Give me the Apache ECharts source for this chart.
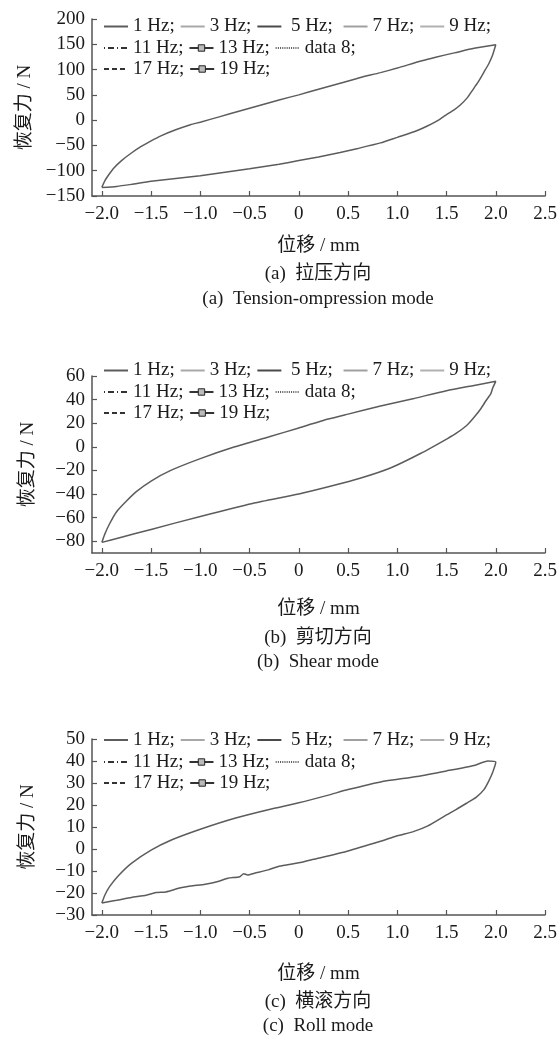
<!DOCTYPE html>
<html><head><meta charset="utf-8">
<script src="https://cdn.jsdelivr.net/npm/echarts@6/dist/echarts.min.js"></script>
<style>html,body{margin:0;padding:0;background:#fff}#c{width:558px;height:1037px}</style>
</head><body><div id="c"></div>
<script>
// ---------- data ----------
const xTicks = [-2.0, -1.5, -1.0, -0.5, 0, 0.5, 1.0, 1.5, 2.0, 2.5];
const yTicksA = [-150, -100, -50, 0, 50, 100, 150, 200];
const yTicksB = [-80, -60, -40, -20, 0, 20, 40, 60];
const yTicksC = [-30, -20, -10, 0, 10, 20, 30, 40, 50];

const seriesNames = ['1 Hz;', '3 Hz;', ' 5 Hz; ', '7 Hz;', '9 Hz;', '11 Hz;', '13 Hz;', 'data 8;', '17 Hz;', '19 Hz;'];
const legendRow1 = ['1 Hz;', '3 Hz;', ' 5 Hz; ', '7 Hz;', '9 Hz;'];
const legendRow2 = ['11 Hz;', '13 Hz;', 'data 8;'];
const legendRow3 = ['17 Hz;', '19 Hz;'];
const markerNames = ['13 Hz;', '19 Hz;'];

// (a) tension-compression loop: upper branch then lower branch
const aX = [-2.0,-1.97,-1.93,-1.88,-1.8,-1.7,-1.6,-1.5,-1.4,-1.25,-1.1,-1.0,-0.8,-0.6,-0.4,-0.2,0,0.2,0.42,0.6,0.83,1.0,1.24,1.4,1.58,1.78,2.0,
            1.97,1.93,1.88,1.82,1.76,1.71,1.64,1.58,1.5,1.41,1.3,1.17,1.0,0.83,0.6,0.42,0.2,0,-0.2,-0.5,-1.0,-1.5,-1.7,-1.85,-2.0];
const aY = [-133,-120,-108,-95,-80,-65,-52,-41,-31,-19,-9,-4,7,18,29,40,50,61,73,83,94,103,117,125,133,142,149,
            130,112,95,75,58,44,30,21,11,-1,-12,-23,-34,-45,-56,-64,-73,-80,-87,-96,-110,-121,-127,-131,-133];

// (b) shear loop
const bX = [-2.0,-1.97,-1.92,-1.85,-1.75,-1.65,-1.5,-1.3,-1.0,-0.65,-0.3,0,0.3,0.5,0.83,1.17,1.5,1.78,2.0,
            1.97,1.95,1.9,1.85,1.78,1.71,1.6,1.51,1.24,0.93,0.63,0.32,0,-0.47,-1.0,-1.5,-1.82,-2.0];
const bY = [-81,-74,-65,-55,-46,-38,-29,-20,-10,0,8.5,16,23.5,27.7,34.5,41,47.5,52,55.5,
            50,45,39,32.5,25,18.5,11.5,7,-5.5,-18,-26.5,-33.5,-40,-48,-59,-70,-77,-81];

// (c) roll loop
const cX = [-2.0,-1.97,-1.92,-1.83,-1.7,-1.5,-1.3,-1.0,-0.65,-0.3,0,0.3,0.5,0.83,1.2,1.5,1.78,1.92,2.0,
            1.97,1.93,1.88,1.8,1.71,1.6,1.5,1.31,1.17,1.0,0.83,0.49,0.15,0,-0.2,-0.31,-0.45,-0.52,-0.56,-0.6,-0.72,-0.82,-0.95,-1.1,-1.2,-1.35,-1.45,-1.55,-1.7,-1.85,-2.0];
const cY = [-24.5,-21,-17,-12,-6.5,-0.5,4,9,14,18,21,24.5,27,30.5,33,35.5,38,40,39.5,
            35,31,27,23.5,21,18,15.5,10.5,8,6,3.5,-1,-4.7,-6.3,-7.8,-9.5,-11,-11.8,-11.2,-12.6,-13.3,-14.8,-16,-16.8,-17.6,-19.5,-19.8,-21,-22,-23.3,-24.5];

// ---------- layout ----------
const FONT = '"Liberation Serif", "Noto Sans CJK SC", serif';
const TXT = '#1a1a1a';
const AXC = '#555';
const panels = [
  {top: 19, height: 177, min: -150, max: 200, ticks: yTicksA, xs: aX, ys: aY, nameGap: 41, legTop: [17, 38.5, 59.5],
   cap: ['(a)  拉压方向', '(a)  Tension-ompression mode'], capY: [274, 299]},
  {top: 376, height: 177, min: -90, max: 60, ticks: yTicksB, xs: bX, ys: bY, nameGap: 47, legTop: [361, 382.5, 403.5],
   cap: ['(b)  剪切方向', '(b)  Shear mode'], capY: [638, 662]},
  {top: 739, height: 176, min: -30, max: 50, ticks: yTicksC, xs: cX, ys: cY, nameGap: 50, legTop: [730.5, 752.5, 773.5],
   cap: ['(c)  横滚方向', '(c)  Roll mode'], capY: [1002, 1026]}
];
const fmtX = v => v === 0 ? '0' : (v < 0 ? '\u2212' : '') + Math.abs(v).toFixed(1);
const fmtY = v => (v < 0 ? '\u2212' : '') + Math.abs(v);

const grids = [], xAxes = [], yAxes = [], series = [], legends = [], graphics = [];
panels.forEach((p, i) => {
  grids.push({left: 92, width: 453, top: p.top, height: p.height, containLabel: false, outerBoundsMode: 'none'});
  xAxes.push({
    type: 'value', gridIndex: i, min: -2.1, max: 2.5,
    name: '位移 / mm', nameLocation: 'middle', nameGap: p.nameGap,
    nameTextStyle: {fontFamily: FONT, fontSize: 19, color: TXT},
    axisLine: {show: true, onZero: false, lineStyle: {color: AXC, width: 1.5}},
    axisTick: {show: true, inside: true, length: 5, customValues: xTicks, lineStyle: {color: AXC, width: 1.2}},
    axisLabel: {customValues: xTicks, formatter: fmtX, fontFamily: FONT, fontSize: 19, color: TXT, margin: 9},
    splitLine: {show: false}
  });
  yAxes.push({
    type: 'value', gridIndex: i, min: p.min, max: p.max,
    name: '恢复力 / N', nameLocation: 'middle', nameGap: 54, nameRotate: 90,
    nameTextStyle: {fontFamily: FONT, fontSize: 19, color: TXT},
    axisLine: {show: true, onZero: false, lineStyle: {color: AXC, width: 1.5}},
    axisTick: {show: true, inside: true, length: 5, customValues: p.ticks, lineStyle: {color: AXC, width: 1.2}},
    axisLabel: {customValues: p.ticks, formatter: fmtY, fontFamily: FONT, fontSize: 19, color: TXT, margin: 7},
    splitLine: {show: false}
  });
  series.push({
    name: '1 Hz;', type: 'line', xAxisIndex: i, yAxisIndex: i,
    data: p.xs.map((x, k) => [x, p.ys[k]]),
    symbol: 'none', showSymbol: false, smooth: 0.2, silent: true,
    lineStyle: {color: '#5c5c5c', width: 1.5}, itemStyle: {color: '#5c5c5c'}
  });
  [legendRow1, legendRow2, legendRow3].forEach((row, r) => {
    legends.push({
      left: 103, top: p.legTop[r], padding: 0, itemGap: 5, itemWidth: 24, itemHeight: 8,
      orient: 'horizontal', selectedMode: false,
      itemStyle: {opacity: 0},
      data: row.map(n => markerNames.includes(n)
        ? {name: n, itemStyle: {opacity: 1, color: '#bbb', borderColor: '#222', borderWidth: 1}}
        : {name: n}),
      textStyle: {fontFamily: FONT, fontSize: 19, color: TXT}
    });
  });
  p.cap.forEach((t, k) => {
    graphics.push({type: 'text', x: 318, y: p.capY[k], silent: true,
      style: {text: t, font: '19px ' + FONT, fill: TXT, textAlign: 'center', textVerticalAlign: 'middle'}});
  });
});

// legend-only styles for the overlapping frequency series
const styles = {
  '3 Hz;':   {color: '#a8a8a8', type: 'solid'},
  ' 5 Hz; ': {color: '#4a4a4a', type: 'solid'},
  '7 Hz;':   {color: '#a0a0a0', type: 'solid'},
  '9 Hz;':   {color: '#b0b0b0', type: 'solid'},
  '11 Hz;':  {color: '#333', type: [1, 3, 6, 3]},
  '13 Hz;':  {color: '#333', type: 'solid', symbol: 'rect'},
  'data 8;': {color: '#555', type: [1, 1.2]},
  '17 Hz;':  {color: '#333', type: [5, 3]},
  '19 Hz;':  {color: '#333', type: 'solid', symbol: 'rect'}
};
seriesNames.slice(1).forEach(n => {
  const s = styles[n];
  series.push({
    name: n, type: 'line', xAxisIndex: 0, yAxisIndex: 0, data: [],
    symbol: s.symbol || 'none', symbolSize: 5,
    lineStyle: {color: s.color, width: 1.5, type: s.type},
    itemStyle: s.symbol ? {color: '#bbb', borderColor: '#222', borderWidth: 1} : {color: s.color}
  });
});

const chart = echarts.init(document.getElementById('c'), null, {renderer: 'canvas'});
chart.setOption({
  animation: false,
  backgroundColor: '#fff',
  grid: grids, xAxis: xAxes, yAxis: yAxes, series: series, legend: legends,
  graphic: graphics
});
</script></body></html>
